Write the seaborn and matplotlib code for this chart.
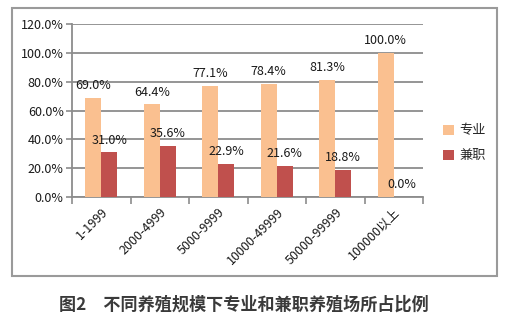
import matplotlib
matplotlib.use("Agg")
import matplotlib.pyplot as plt
import seaborn as sns
import pandas as pd
from matplotlib.patches import Rectangle, Patch
from matplotlib.ticker import FuncFormatter, FixedLocator

categories = ["1-1999", "2000-4999", "5000-9999", "10000-49999", "50000-99999", "100000以上"]
series_names = ["专业", "兼职"]
professional = [69.0, 64.4, 77.1, 78.4, 81.3, 100.0]
parttime = [31.0, 35.6, 22.9, 21.6, 18.8, 0.0]
yticks = [0, 20, 40, 60, 80, 100, 120]
caption = "图2　不同养殖规模下专业和兼职养殖场所占比例"

df = pd.DataFrame({
    "cat": categories * 2,
    "series": [series_names[0]] * len(categories) + [series_names[1]] * len(categories),
    "value": professional + parttime,
})

sns.set_theme(style="white")
plt.rcParams["font.family"] = ["Noto Sans CJK SC", "DejaVu Sans"]

fig = plt.figure(figsize=(5.06, 3.29), dpi=100)
ax = fig.add_axes([72/506, 1-197/329, (423-72)/506, (197-24)/329])

palette = {"专业": "#FAC090", "兼职": "#C0504D"}
sns.barplot(data=df, x="cat", y="value", hue="series", palette=palette,
            width=0.55, saturation=1, ax=ax, legend=False, zorder=3,
            edgecolor="none", linewidth=0)

for cont in ax.containers:
    ax.bar_label(cont, labels=[f"{v:.1f}%" for v in cont.datavalues],
                 padding=4, fontsize=9, color="#1a1a1a", zorder=4)

ax.set_ylim(0, 120)
ax.set_xlim(-0.5, len(categories) - 0.5)
ax.set_yticks(yticks)
ax.yaxis.set_major_formatter(FuncFormatter(lambda v, p: f"{v:.1f}%"))
ax.grid(axis="y", color="#8c8c8c", linewidth=1.3, zorder=0)
ax.set_axisbelow(True)

ax.set_xticks(range(len(categories)))
ax.set_xticklabels(categories, rotation=45, ha="right", rotation_mode="anchor", fontsize=9)
ax.xaxis.set_minor_locator(FixedLocator([i - 0.5 for i in range(len(categories) + 1)]))
ax.tick_params(axis="x", which="major", length=0, pad=6)
ax.tick_params(axis="x", which="minor", length=5, width=1.2, color="#8c8c8c", direction="out", bottom=True)
ax.tick_params(axis="y", length=4, width=1.2, color="#8c8c8c", direction="out", left=True, labelsize=9, pad=2)
for t in ax.get_yticklabels() + ax.get_xticklabels():
    t.set_color("#1a1a1a")

for s in ["top", "right"]:
    ax.spines[s].set_visible(False)
for s in ["left", "bottom"]:
    ax.spines[s].set_color("#8c8c8c")
    ax.spines[s].set_linewidth(1.3)
ax.set_xlabel("")
ax.set_ylabel("")

handles = [Patch(facecolor=palette[n], edgecolor="none") for n in series_names]
fig.legend(handles=handles, labels=series_names, loc="upper left",
           bbox_to_anchor=(438/506, 1-119/329),
           frameon=False, fontsize=9.5, handlelength=0.8, handleheight=0.8,
           handletextpad=0.4, labelspacing=0.9, borderaxespad=0)

fig.patches.append(Rectangle((12/506, 1-276/329), (497-12)/506, (276-8)/329,
                             transform=fig.transFigure, fill=False,
                             edgecolor="#9a9a9a", linewidth=1.5))

fig.text(244/506, 1-305/329, caption, ha="center", va="center", fontsize=12.3,
         fontweight="bold", color="#3a3a3a")

fig.savefig("out.png", dpi=100)
